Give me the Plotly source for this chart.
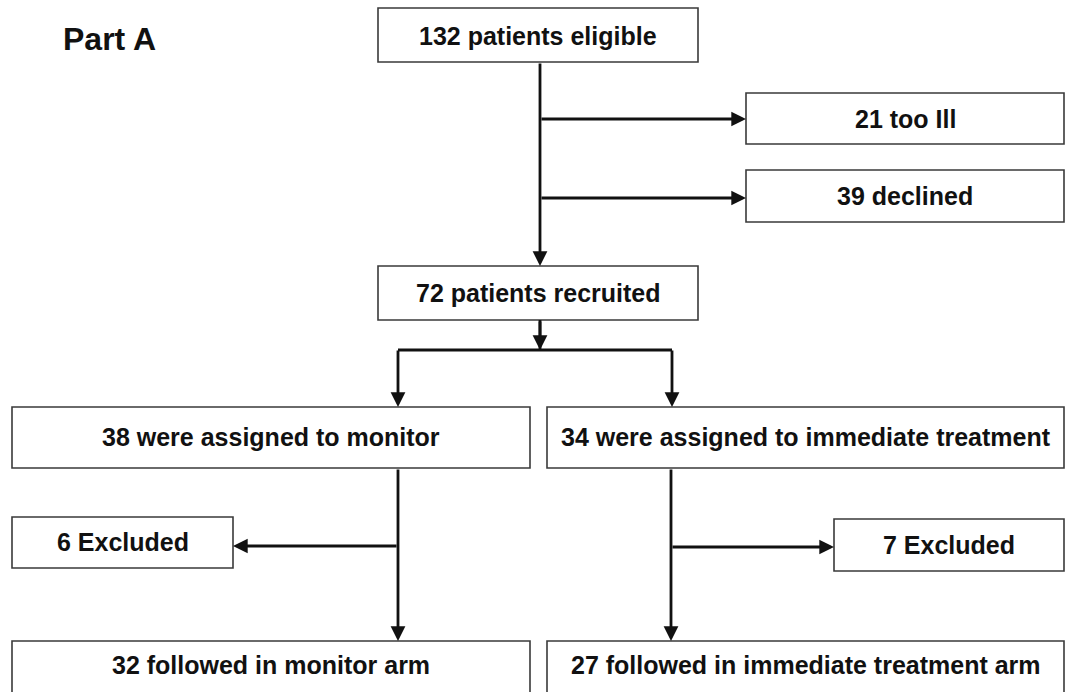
import plotly.graph_objects as go

# ---- data ----
stage_labels = ["patients eligible", "too Ill", "declined", "patients recruited",
                "were assigned to monitor", "were assigned to immediate treatment",
                "Excluded", "Excluded",
                "followed in monitor arm", "followed in immediate treatment arm"]
stage_counts = [132, 21, 39, 72, 38, 34, 6, 7, 32, 27]
panel_title = "Part A"

# ---- layout (pixel coordinates, y downward) ----
boxes = [  # x0, y0, x1, y1
    (378, 8, 698, 62),
    (746, 93, 1064, 144),
    (746, 170, 1064, 222),
    (378, 266, 698, 320),
    (12, 407, 530, 468),
    (547, 407, 1064, 468),
    (12, 517, 233, 568),
    (834, 519, 1064, 571),
    (12, 641, 530, 700),
    (547, 641, 1064, 700),
]
text_y = [36, 119, 196, 293, 437, 437, 542, 545, 665, 665]

W, H = 1071, 692
fig = go.Figure()
shapes = []
annotations = []
FONT = dict(family="Arial, Liberation Sans, sans-serif", size=25, color="#111111", weight="bold")

for (x0, y0, x1, y1), lab, cnt, ty in zip(boxes, stage_labels, stage_counts, text_y):
    shapes.append(dict(type="rect", xref="x", yref="y", x0=x0, y0=y0, x1=x1, y1=y1,
                       line=dict(color="#3a3a3a", width=1.6), fillcolor="white", layer="below"))
    annotations.append(dict(x=(x0 + x1) / 2, y=ty, xref="x", yref="y", text=f"{cnt} {lab}",
                            showarrow=False, font=FONT, xanchor="center", yanchor="middle"))

LW = 2.8
# plain connector lines
plain = [((540, 320), (540, 350)), ((398, 350), (672, 350))]
for (ax, ay), (bx, by) in plain:
    shapes.append(dict(type="line", xref="x", yref="y", x0=ax, y0=ay, x1=bx, y1=by,
                       line=dict(color="#111111", width=LW)))

# arrows: tail -> tip
arrows = [
    ((540, 62), (540, 266)),
    ((540, 119), (746, 119)),
    ((540, 198), (746, 198)),
    ((540, 320), (540, 350)),
    ((398, 349), (398, 407)),
    ((672, 349), (672, 407)),
    ((398, 468), (398, 641)),
    ((671, 468), (671, 641)),
    ((398, 546), (233, 546)),
    ((671, 547), (834, 547)),
]
for (ax, ay), (bx, by) in arrows:
    annotations.append(dict(x=bx, y=by, ax=ax, ay=ay, xref="x", yref="y", axref="x", ayref="y",
                            showarrow=True, arrowhead=2, arrowsize=1.05, arrowwidth=LW,
                            arrowcolor="#111111", text=""))

annotations.append(dict(x=109, y=39, xref="x", yref="y", text=panel_title, showarrow=False,
                        font=dict(family="Arial, Liberation Sans, sans-serif", size=32,
                                  color="#111111", weight="bold"),
                        xanchor="center", yanchor="middle"))

fig.update_layout(
    width=W, height=H, margin=dict(l=0, r=0, t=0, b=0),
    paper_bgcolor="white", plot_bgcolor="white",
    xaxis=dict(range=[0, W], visible=False, fixedrange=True),
    yaxis=dict(range=[H, 0], visible=False, fixedrange=True),
    shapes=shapes, annotations=annotations, showlegend=False,
)
fig.write_html("out.html", config={"displayModeBar": False},
               post_script="document.body.style.margin='0';document.body.style.overflow='hidden';")
